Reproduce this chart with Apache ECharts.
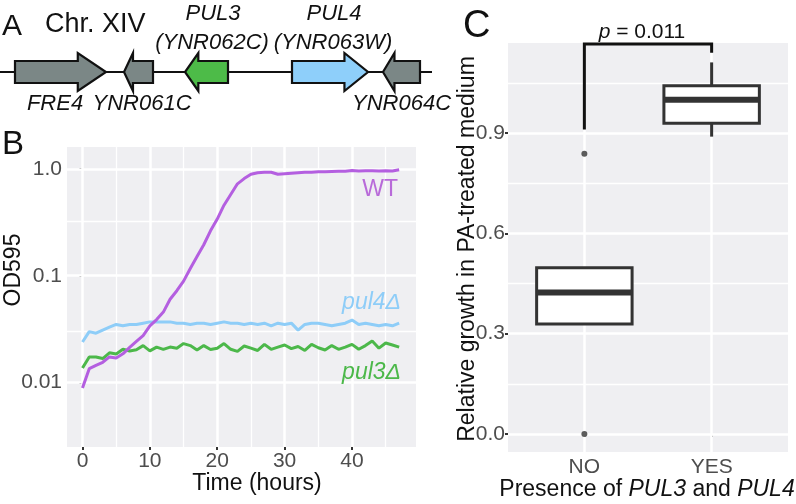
<!DOCTYPE html>
<html>
<head>
<meta charset="utf-8">
<script src="https://cdn.jsdelivr.net/npm/echarts@6/dist/echarts.min.js"></script>
<style>
html,body{margin:0;padding:0;background:#fff;}
#main{width:796px;height:504px;}
</style>
</head>
<body>
<div id="main"></div>
<script>
// panel A: genes on Chr. XIV (schematic positions)
var geneNames=['FRE4','YNR061C','PUL3','PUL4','YNR064C'];
var geneStart=[15,124,185,292,383];
var geneEnd=[106,153,228,368,420];
var geneStrand=[1,-1,-1,1,-1];
var chrExtent=[0,432];

// panel B: growth curves, OD595 per hour
var hours=[0,1,2,3,4,5,6,7,8,9,10,11,12,13,14,15,16,17,18,19,20,21,22,23,
    24,25,26,27,28,29,30,31,32,33,34,35,36,37,38,39,40,41,42,43,44,45,46,47];
var odWT=[0.0089,0.0135,0.0145,0.0155,0.0174,0.0170,0.0186,0.0214,0.0243,0.0275,0.0339,0.0389,
    0.0457,0.0603,0.0724,0.089,0.117,0.151,0.195,0.263,0.339,0.457,0.575,0.724,
    0.81,0.89,0.92,0.93,0.93,0.89,0.90,0.91,0.92,0.93,0.93,0.94,
    0.94,0.945,0.95,0.95,0.965,0.955,0.96,0.96,0.955,0.96,0.955,0.98];
var odPul4=[0.024,0.030,0.029,0.031,0.033,0.035,0.034,0.035,0.035,0.036,0.037,0.037,
    0.037,0.037,0.036,0.036,0.035,0.036,0.036,0.035,0.036,0.037,0.036,0.036,
    0.035,0.036,0.035,0.036,0.034,0.036,0.035,0.036,0.031,0.035,0.036,0.036,
    0.035,0.034,0.035,0.036,0.0385,0.035,0.036,0.035,0.034,0.035,0.034,0.036];
var odPul3=[0.0137,0.0174,0.0174,0.0168,0.0190,0.0185,0.0205,0.0198,0.0203,0.0222,0.0198,0.0215,
    0.0205,0.0215,0.0210,0.0232,0.0222,0.0202,0.0222,0.0204,0.0210,0.0232,0.0205,0.0196,
    0.0220,0.0210,0.0200,0.0228,0.0205,0.0215,0.0225,0.0208,0.0218,0.0200,0.0228,0.0212,
    0.0202,0.0222,0.0205,0.0215,0.0228,0.0205,0.0222,0.0245,0.0210,0.0235,0.0225,0.0215];
var bXTicks=[0,10,20,30,40];
var bXMinor=[5,15,25,35,45];
var bYTicks=[0.01,0.1,1];
var bYMinor=[0.00316,0.0316,0.316];

// panel C: relative growth boxplots
var groups=['NO','YES'];
var whiskLow=[0.329,0.889];
var q1=[0.329,0.929];
var med=[0.423,0.999];
var q3=[0.497,1.041];
var whiskHigh=[0.497,1.111];
var outliers=[[1,0.838],[1,0.0]];
var bracket=[[1,0.91],[1,1.166],[2,1.166],[2,1.14]];
var cYTicks=[0,0.3,0.6,0.9];
var cYMinor=[0.15,0.45,0.75,1.05];
var cXTicks=[1,2];

var FONT='Liberation Sans';
var PANEL_BG='#efeff2';
var geneColor={FRE4:'#7b8786',YNR061C:'#7b8786',PUL3:'#4dbb48',PUL4:'#8ecffa',YNR064C:'#7b8786'};

function gridLines(xs,ys,w){
    var d=[];
    for(var i=0;i<xs.length;i++) d.push({xAxis:xs[i]});
    for(var j=0;j<ys.length;j++) d.push({yAxis:ys[j]});
    return {silent:true,z:1,symbol:['none','none'],label:{show:false},animation:false,
        lineStyle:{color:'#ffffff',width:w,type:'solid'},emphasis:{disabled:true},data:d};
}

var geneData=[];
for(var i=0;i<geneNames.length;i++){
    geneData.push({name:geneNames[i],value:[geneStart[i],geneEnd[i],geneStrand[i]]});
}
var boxData=[];
for(var k=0;k<groups.length;k++){
    boxData.push([k+1,whiskLow[k],q1[k],med[k],q3[k],whiskHigh[k]]);
}
function pairs(xs,ys){
    var out=[];
    for(var i=0;i<xs.length;i++) out.push([xs[i],ys[i]]);
    return out;
}
function txt(x,y,s,size,opt){
    opt=opt||{};
    return {type:'text',x:x,y:y,rotation:opt.rot||0,z:50,
        style:{text:s,fontSize:size,fontFamily:FONT,fontStyle:opt.italic?'italic':'normal',
            fill:opt.color||'#111',align:opt.align||'center',verticalAlign:'middle',
            rich:opt.rich}};
}

var tickStyle={show:true,length:3,lineStyle:{color:'#333',width:2}};
var labStyle={color:'#4d4d4d',fontSize:21,fontFamily:FONT};
var ital={i:{fontStyle:'italic',fontSize:23,fontFamily:FONT,fill:'#111'}};

var myChart=echarts.init(document.getElementById('main'));
var option={
    animation:false,
    textStyle:{fontFamily:FONT},
    grid:[
        {left:0,top:52,width:432,height:40,show:false},
        {left:67,top:147,width:349,height:300,show:true,backgroundColor:PANEL_BG,borderWidth:0},
        {left:508,top:43,width:280,height:409,show:true,backgroundColor:PANEL_BG,borderWidth:0}
    ],
    xAxis:[
        {gridIndex:0,type:'value',min:chrExtent[0],max:chrExtent[1],show:false},
        {gridIndex:1,type:'value',min:-2.3,max:49.5,
            axisLine:{show:false},splitLine:{show:false},
            axisTick:Object.assign({customValues:bXTicks},tickStyle),
            axisLabel:Object.assign({customValues:bXTicks,margin:4},labStyle)},
        {gridIndex:2,type:'value',min:0.4,max:2.6,
            axisLine:{show:false},splitLine:{show:false},
            axisTick:Object.assign({customValues:cXTicks},tickStyle),
            axisLabel:Object.assign({customValues:cXTicks,margin:5,
                formatter:function(v){return groups[Math.round(v)-1];}},labStyle)}
    ],
    yAxis:[
        {gridIndex:0,type:'value',min:-1,max:1,show:false},
        {gridIndex:1,type:'log',min:0.0025,max:1.6,
            axisLine:{show:false},splitLine:{show:false},minorSplitLine:{show:false},
            axisTick:Object.assign({customValues:bYTicks},tickStyle),
            axisLabel:Object.assign({customValues:bYTicks,margin:5,
                formatter:function(v){
                    var e=Math.round(Math.log(v)/Math.LN10);
                    return e===0?'1.0':(e===-1?'0.1':'0.01');
                }},labStyle)},
        {gridIndex:2,type:'value',min:-0.054,max:1.169,
            axisLine:{show:false},splitLine:{show:false},
            axisTick:Object.assign({customValues:cYTicks},tickStyle),
            axisLabel:Object.assign({customValues:cYTicks,margin:3,
                formatter:function(v){return v.toFixed(1);}},labStyle)}
    ],
    series:[
        // chromosome line and genes
        {type:'line',xAxisIndex:0,yAxisIndex:0,data:[[chrExtent[0],0],[chrExtent[1],0]],
            symbol:'none',lineStyle:{color:'#111',width:2},z:1},
        {type:'custom',xAxisIndex:0,yAxisIndex:0,data:geneData,z:3,
            renderItem:function(params,api){
                var p0=api.coord([api.value(0),0]);
                var p1=api.coord([api.value(1),0]);
                var s=api.value(2);
                var y=p0[1],x0=p0[0],x1=p1[0];
                var h=(x1-x0)*0.31,b=11,hh=19;
                var pts;
                if(s>0){
                    pts=[[x0,y-b],[x1-h,y-b],[x1-h,y-hh],[x1,y],[x1-h,y+hh],[x1-h,y+b],[x0,y+b]];
                }else{
                    pts=[[x1,y-b],[x0+h,y-b],[x0+h,y-hh],[x0,y],[x0+h,y+hh],[x0+h,y+b],[x1,y+b]];
                }
                var nm=geneNames[params.dataIndex];
                return {type:'polygon',shape:{points:pts},
                    style:{fill:geneColor[nm],stroke:'#111',lineWidth:2.2,lineJoin:'miter'}};
            }},
        // panel B grid lines
        {type:'line',xAxisIndex:1,yAxisIndex:1,data:[],z:1,markLine:gridLines(bXMinor,bYMinor,1.3)},
        {type:'line',xAxisIndex:1,yAxisIndex:1,data:[],z:1,markLine:gridLines(bXTicks,bYTicks,2.5)},
        {name:'WT',type:'line',xAxisIndex:1,yAxisIndex:1,data:pairs(hours,odWT),
            symbol:'none',lineStyle:{color:'#b45fe0',width:3},z:4},
        {name:'pul4',type:'line',xAxisIndex:1,yAxisIndex:1,data:pairs(hours,odPul4),
            symbol:'none',lineStyle:{color:'#8ecdf8',width:3},z:3},
        {name:'pul3',type:'line',xAxisIndex:1,yAxisIndex:1,data:pairs(hours,odPul3),
            symbol:'none',lineStyle:{color:'#4cb84a',width:3},z:3},
        // panel C grid lines
        {type:'line',xAxisIndex:2,yAxisIndex:2,data:[],z:1,markLine:gridLines([],cYMinor,1.3)},
        {type:'line',xAxisIndex:2,yAxisIndex:2,data:[],z:1,markLine:gridLines(cXTicks,cYTicks,2.5)},
        {type:'custom',xAxisIndex:2,yAxisIndex:2,data:boxData,z:3,
            renderItem:function(params,api){
                var x=api.value(0),hw=0.375;
                var lo=api.coord([x,api.value(1)]);
                var a=api.coord([x-hw,api.value(4)]);
                var c=api.coord([x+hw,api.value(2)]);
                var m=api.coord([x,api.value(3)]);
                var hi=api.coord([x,api.value(5)]);
                var st={stroke:'#333',lineWidth:3,fill:null};
                return {type:'group',children:[
                    {type:'line',shape:{x1:lo[0],y1:lo[1],x2:lo[0],y2:c[1]},style:st},
                    {type:'line',shape:{x1:hi[0],y1:hi[1],x2:hi[0],y2:a[1]},style:st},
                    {type:'rect',shape:{x:a[0],y:a[1],width:c[0]-a[0],height:c[1]-a[1]},
                        style:{stroke:'#333',lineWidth:3,fill:'#fff'}},
                    {type:'line',shape:{x1:a[0],y1:m[1],x2:c[0],y2:m[1]},
                        style:{stroke:'#333',lineWidth:6}}
                ]};
            }},
        {type:'scatter',xAxisIndex:2,yAxisIndex:2,data:outliers,symbolSize:6,
            itemStyle:{color:'#333'},z:4},
        {type:'line',xAxisIndex:2,yAxisIndex:2,data:bracket,symbol:'none',clip:false,
            lineStyle:{color:'#111',width:3,join:'miter'},z:4}
    ],
    graphic:[
        txt(2,27,'A',30,{align:'left'}),
        txt(45,25,'Chr. XIV',27,{align:'left'}),
        txt(213,14,'PUL3',22,{italic:true}),
        txt(212,43,'(YNR062C)',22,{italic:true}),
        txt(334,14,'PUL4',22,{italic:true}),
        txt(333,43,'(YNR063W)',22,{italic:true}),
        txt(55,104,'FRE4',22,{italic:true}),
        txt(142,104,'YNR061C',22,{italic:true}),
        txt(352,104,'YNR064C',22,{italic:true,align:'left'}),
        txt(2,145,'B',33,{align:'left'}),
        txt(398,190,'WT',23,{align:'right',color:'#b86ad9'}),
        txt(401,303,'pul4\u0394',23,{align:'right',italic:true,color:'#8ecdf8'}),
        txt(401,373,'pul3\u0394',23,{align:'right',italic:true,color:'#4cb84a'}),
        txt(14,270,'OD595',23,{rot:Math.PI/2}),
        txt(257,484,'Time (hours)',23),
        txt(463,27,'C',38,{align:'left'}),
        txt(642,32,'{i|p} = 0.011',21,{rich:{i:{fontStyle:'italic',fontSize:21,fontFamily:FONT,fill:'#111'}}}),
        txt(468,249,'Relative growth in PA-treated medium',23,{rot:Math.PI/2}),
        txt(647,490,'Presence of {i|PUL3} and {i|PUL4}',23,{rich:ital})
    ]
};
myChart.setOption(option);
</script>
</body>
</html>
